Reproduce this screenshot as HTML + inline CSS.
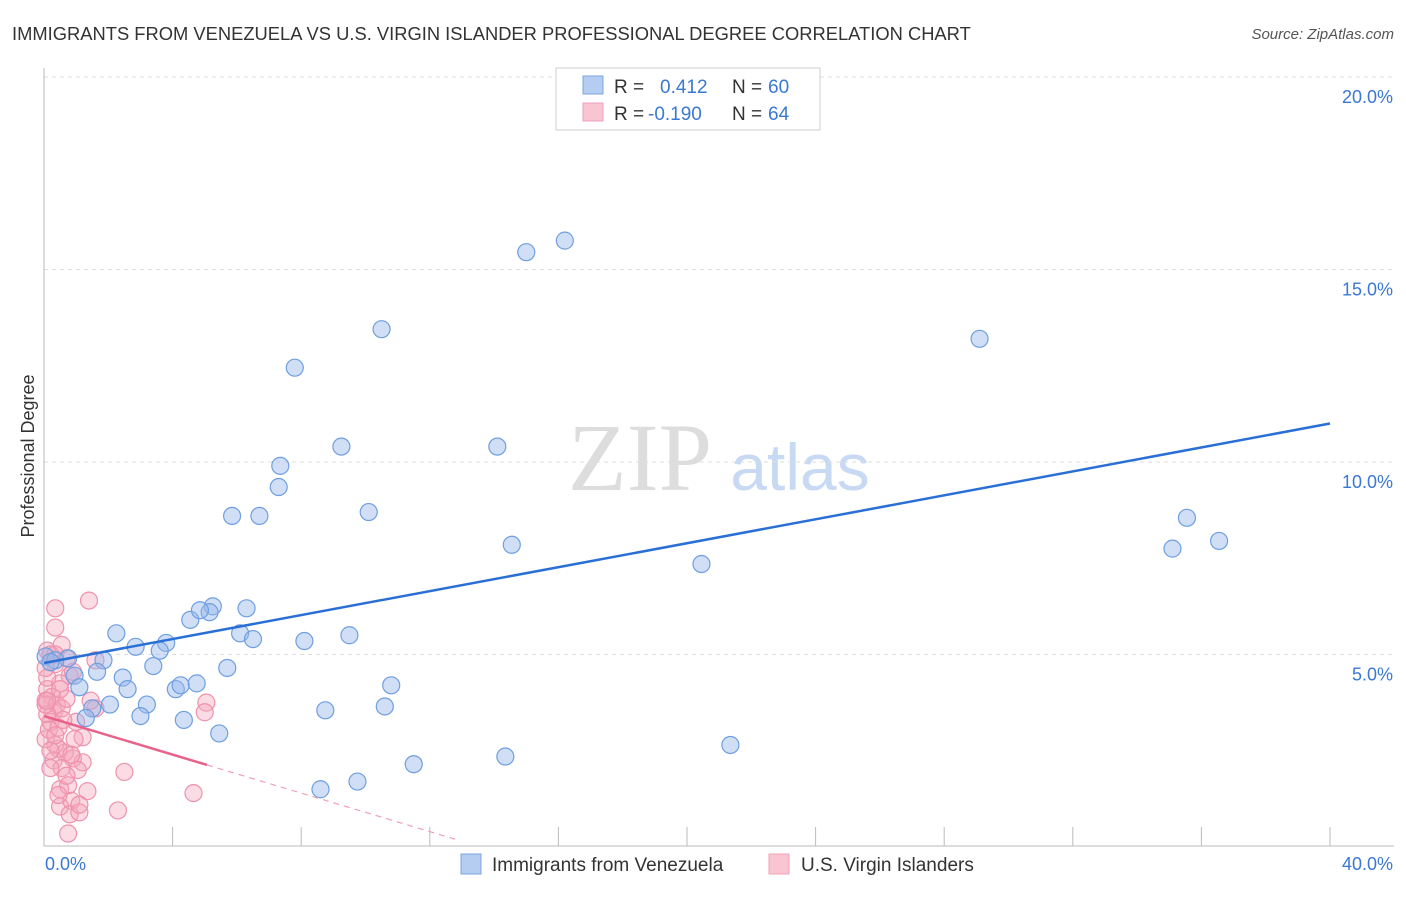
<!DOCTYPE html>
<html><head><meta charset="utf-8"><style>
body{margin:0;background:#fff;font-family:"Liberation Sans",sans-serif;}
</style></head><body>
<svg width="1406" height="892" xmlns="http://www.w3.org/2000/svg">
<text x="12" y="40" font-size="18.35" fill="#333">IMMIGRANTS FROM VENEZUELA VS U.S. VIRGIN ISLANDER PROFESSIONAL DEGREE CORRELATION CHART</text>
<text x="1394" y="39" font-size="15" fill="#555" font-style="italic" text-anchor="end">Source: ZipAtlas.com</text>
<text x="640" y="490" font-size="96" fill="#ddd" font-family="Liberation Serif,serif" text-anchor="middle">ZIP</text>
<text x="800" y="490" font-size="66" fill="#c8daf3" text-anchor="middle">atlas</text>
<g id="grid"></g>
<g id="axes"></g>
<g id="pts"></g>
<g id="lines"></g>
<text transform="translate(34,456) rotate(-90)" font-size="18" fill="#333" text-anchor="middle">Professional Degree</text>
<text x="45" y="870" font-size="18" fill="#3a78d4">0.0%</text>
<text x="1393" y="870" font-size="18" fill="#3a78d4" text-anchor="end">40.0%</text>
<g>
<rect x="556" y="68" width="264" height="62" fill="#fff" stroke="#ccc"/>
<rect x="583" y="76" width="20" height="18" fill="#b5cdf0" stroke="#7ba5e0"/>
<rect x="583" y="103" width="20" height="18" fill="#f9c5d3" stroke="#eea0b5"/>
<text x="614" y="93" font-size="19" fill="#333">R =</text>
<text x="660" y="93" font-size="19" fill="#3a78d4">0.412</text>
<text x="732" y="93" font-size="19" fill="#333">N =</text>
<text x="768" y="93" font-size="19" fill="#3a78d4">60</text>
<text x="614" y="120" font-size="19" fill="#333">R =</text>
<text x="648" y="120" font-size="19" fill="#3a78d4">-0.190</text>
<text x="732" y="120" font-size="19" fill="#333">N =</text>
<text x="768" y="120" font-size="19" fill="#3a78d4">64</text>
</g>
<g>
<rect x="461" y="854" width="20" height="20" fill="#b5cdf0" stroke="#7ba5e0"/>
<text x="492" y="871" font-size="19" fill="#333">Immigrants from Venezuela</text>
<rect x="769" y="854" width="20" height="20" fill="#f9c5d3" stroke="#eea0b5"/>
<text x="801" y="871" font-size="19" fill="#333">U.S. Virgin Islanders</text>
</g>
</svg>
<script>
const blueX=[16.2,15.0,10.5,7.8,29.1,9.25,14.1,7.35,7.3,5.85,6.7,10.1,14.55,35.55,35.1,36.55,20.45,5.25,6.3,5.15,4.55,4.85,2.25,2.85,3.8,3.6,6.1,6.5,8.1,9.5,0.05,0.75,1.85,0.35,1.65,3.4,5.7,0.95,2.45,2.6,1.1,4.1,4.25,4.75,10.8,3.2,2.05,1.5,3.0,1.3,4.35,8.75,10.6,5.45,21.35,14.35,11.5,9.75,8.6,0.2];
const blueY=[15.75,15.45,13.45,12.45,13.2,10.4,10.4,9.9,9.35,8.6,8.6,8.7,7.85,8.55,7.75,7.95,7.35,6.25,6.2,6.1,5.9,6.15,5.55,5.2,5.3,5.1,5.55,5.4,5.35,5.5,4.95,4.9,4.85,4.85,4.55,4.7,4.65,4.45,4.4,4.1,4.15,4.1,4.2,4.25,4.2,3.7,3.7,3.6,3.4,3.35,3.3,3.55,3.65,2.95,2.65,2.35,2.15,1.7,1.5,4.8];
const pinkX=[0.35,1.4,0.35,0.55,0.1,0.35,0.7,0.8,0.5,1.6,0.9,0.1,0.25,0.05,0.4,0.3,0.55,0.7,0.2,0.1,1.0,1.6,5.05,5.0,1.2,0.35,0.65,0.45,0.9,0.3,0.55,1.2,1.05,0.85,2.5,0.5,0.75,1.35,4.65,0.5,0.85,0.8,1.1,2.3,0.75,0.2,0.05,0.15,0.45,0.1,0.05,0.2,0.5,0.6,0.05,0.35,0.95,0.7,1.1,0.2,0.45,1.45,0.1,0.35];
const pinkY=[6.2,6.4,5.7,5.25,5.1,4.75,4.9,4.45,4.25,4.85,4.55,4.1,3.9,3.8,3.7,3.5,3.6,3.85,3.25,3.45,3.25,3.6,3.75,3.5,2.85,2.65,2.45,2.55,2.3,2.25,2.05,2.2,2.0,2.4,1.95,1.5,1.6,1.45,1.4,1.05,1.2,0.85,0.9,0.95,0.35,2.05,2.8,3.05,3.1,4.4,4.65,5.0,4.1,3.3,3.7,2.9,2.8,1.85,1.1,2.5,1.35,3.8,3.8,5.0];
const yTicks=[5,10,15,20];
const blueTrend=[4.78,11.0];
const pinkTrend=[3.4,-0.25];
const NS="http://www.w3.org/2000/svg";
const sx=v=>44+v*32.15, sy=v=>847-v*38.5;
function mk(t,a,p){const e=document.createElementNS(NS,t);for(const k in a)e.setAttribute(k,a[k]);p.appendChild(e);return e;}
const grid=document.getElementById('grid'),axes=document.getElementById('axes');
yTicks.forEach(t=>{
 const l=mk('line',{x1:44,x2:1394,y1:sy(t),y2:sy(t),stroke:'#ddd','stroke-dasharray':'4,4'},grid);
 
 
 const tx=mk('text',{x:1393,y:sy(t)+26,'font-size':18,fill:'#3a78d4','text-anchor':'end'},grid);
 tx.textContent=t.toFixed(1)+'%';
 
 
});
mk('line',{x1:44,x2:44,y1:68,y2:846,stroke:'#bbb'},axes);
mk('line',{x1:44,x2:1394,y1:846,y2:846,stroke:'#bbb'},axes);
for(let i=1;i<=10;i++){const l=mk('line',{x1:sx(i*4),x2:sx(i*4),y1:827,y2:846,stroke:'#bbb'},axes);
 
 }
const pts=document.getElementById('pts');
pinkX.forEach((x,i)=>{const c=mk('circle',{cx:sx(x),cy:sy(pinkY[i]),r:8.5,fill:'rgba(245,165,188,0.4)',stroke:'#ee92ad','stroke-width':1.2},pts);
 
 });
blueX.forEach((x,i)=>{const c=mk('circle',{cx:sx(x),cy:sy(blueY[i]),r:8.5,fill:'rgba(150,185,235,0.45)',stroke:'#6f9fe0','stroke-width':1.2},pts);
 
 });
const lines=document.getElementById('lines');
const bl=mk('line',{x1:sx(0),y1:sy(blueTrend[0]),x2:sx(40),y2:sy(blueTrend[1]),stroke:'#2a6fd6','stroke-width':2.5},lines);


const pf=x=>pinkTrend[0]+pinkTrend[1]*x;
const pl=mk('line',{x1:sx(0),y1:sy(pf(0)),x2:sx(5.07),y2:sy(pf(5.07)),stroke:'#e8628a','stroke-width':2.5},lines);


const pd=mk('line',{x1:sx(5.07),y1:sy(pf(5.07)),x2:sx(12.8),y2:sy(pf(12.8)),stroke:'#f0a0b8','stroke-width':1.2,'stroke-dasharray':'6,5'},lines);


</script>
</body></html>
